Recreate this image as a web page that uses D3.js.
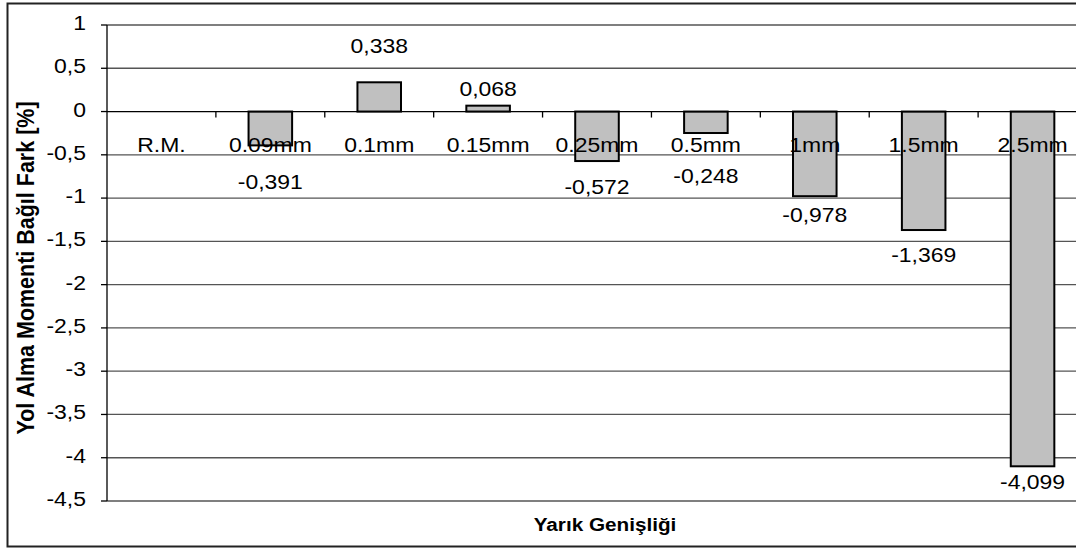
<!DOCTYPE html>
<head>
    <title>Yol Alma Momenti Bağıl Fark</title>
    <meta charset="utf-8">
    <script src="https://cdn.jsdelivr.net/npm/d3@7"></script>
    <style>
        body { margin: 0; background: white; }
        text { font-family: "Liberation Sans", Arial, sans-serif; fill: black; }
    </style>
</head>

<body>
    <div id="chart"></div>

    <script>
        // data
        const categories = ['R.M.', '0.09mm', '0.1mm', '0.15mm', '0.25mm', '0.5mm', '1mm', '1.5mm', '2.5mm'];
        const values = [null, -0.391, 0.338, 0.068, -0.572, -0.248, -0.978, -1.369, -4.099];
        const yTicks = [1, 0.5, 0, -0.5, -1, -1.5, -2, -2.5, -3, -3.5, -4, -4.5];

        // labels were moved by hand in the original, distance from bar end (px)
        const labelGap = [0, 44, 29, 10, 33, 50, 26, 32, 23];

        const svgWidth = 1076;
        const svgHeight = 549;
        const plot = {left: 107, right: 1087, top: 25, bottom: 501};
        const sx = 1.12;   // the original picture is stretched sideways

        const svg = d3.select('#chart').append('svg')
            .attr('width', svgWidth)
            .attr('height', svgHeight)
            .style('display', 'block');

        // chart frame (runs past the right edge, as in the picture)
        svg.append('rect')
            .attr('x', 7.5).attr('y', 3.5)
            .attr('width', 1100).attr('height', 543)
            .style('fill', 'white')
            .style('stroke', '#222')
            .style('stroke-width', 2);

        const x = d3.scaleBand()
            .domain(categories)
            .range([plot.left, plot.right])
            .padding(0);

        const y = d3.scaleLinear()
            .domain([-4.5, 1])
            .range([plot.bottom, plot.top]);

        const fmt = v => String(v).replace('.', ',');
        const placeText = (sel, fx, fy) =>
            sel.attr('transform', (d, i) => `translate(${fx(d, i)},${fy(d, i)}) scale(${sx},1)`);

        // gridlines
        svg.append('g').selectAll('line')
            .data(yTicks.filter(t => t !== 0))
            .enter().append('line')
                .attr('x1', plot.left).attr('x2', plot.right)
                .attr('y1', d => y(d)).attr('y2', d => y(d))
                .style('stroke', '#555')
                .style('stroke-width', 1.3);

        // y axis
        const yAxis = svg.append('g');
        yAxis.append('line')
            .attr('x1', plot.left).attr('x2', plot.left)
            .attr('y1', plot.top).attr('y2', plot.bottom)
            .style('stroke', 'black').style('stroke-width', 1.3);
        yAxis.selectAll('.ytick')
            .data(yTicks)
            .enter().append('line')
                .classed('ytick', true)
                .attr('x1', plot.left - 6).attr('x2', plot.left)
                .attr('y1', d => y(d)).attr('y2', d => y(d))
                .style('stroke', 'black').style('stroke-width', 1.3);
        yAxis.selectAll('text')
            .data(yTicks)
            .enter().append('text')
                .style('font-size', '20.5px')
                .style('text-anchor', 'end')
                .call(placeText, () => 86, d => y(d) + 5)
                .text(fmt);

        // bars
        const barW = x.bandwidth() * 0.4;
        const barData = categories.map((c, i) => ({cat: c, val: values[i], gap: labelGap[i]}))
            .filter(d => d.val !== null);

        svg.append('g').selectAll('rect')
            .data(barData)
            .enter().append('rect')
                .attr('x', d => x(d.cat) + (x.bandwidth() - barW) / 2)
                .attr('width', barW)
                .attr('y', d => y(Math.max(0, d.val)))
                .attr('height', d => Math.abs(y(d.val) - y(0)))
                .style('fill', '#c0c0c0')
                .style('stroke', 'black')
                .style('stroke-width', 2);

        // zero line with category ticks
        const xAxis = svg.append('g');
        xAxis.append('line')
            .attr('x1', plot.left).attr('x2', plot.right)
            .attr('y1', y(0)).attr('y2', y(0))
            .style('stroke', 'black').style('stroke-width', 1.3);
        xAxis.selectAll('.xtick')
            .data(categories.slice(1))
            .enter().append('line')
                .classed('xtick', true)
                .attr('x1', d => x(d)).attr('x2', d => x(d))
                .attr('y1', y(0)).attr('y2', y(0) + 6)
                .style('stroke', 'black').style('stroke-width', 1.3);
        xAxis.selectAll('text')
            .data(categories)
            .enter().append('text')
                .style('font-size', '20.5px')
                .style('text-anchor', 'middle')
                .call(placeText, d => x(d) + x.bandwidth() / 2, () => y(0) + 40)
                .text(d => d);

        // value labels
        svg.append('g').selectAll('text')
            .data(barData)
            .enter().append('text')
                .style('font-size', '20.5px')
                .style('text-anchor', 'middle')
                .call(placeText, d => x(d.cat) + x.bandwidth() / 2,
                    d => d.val < 0 ? y(d.val) + d.gap : y(d.val) - d.gap)
                .text(d => d.val.toFixed(3).replace('.', ','));

        // axis titles
        svg.append('text')
            .style('font-size', '18.5px')
            .style('font-weight', 'bold')
            .style('text-anchor', 'middle')
            .attr('transform', `translate(605,531) scale(${sx},1)`)
            .text('Yarık Genişliği');

        svg.append('text')
            .style('font-size', '21.5px')
            .style('font-weight', 'bold')
            .style('text-anchor', 'middle')
            .attr('transform', `translate(34,268) scale(${sx},1) rotate(-90)`)
            .text('Yol Alma Momenti Bağıl Fark [%]');
    </script>
</body>

</html>
